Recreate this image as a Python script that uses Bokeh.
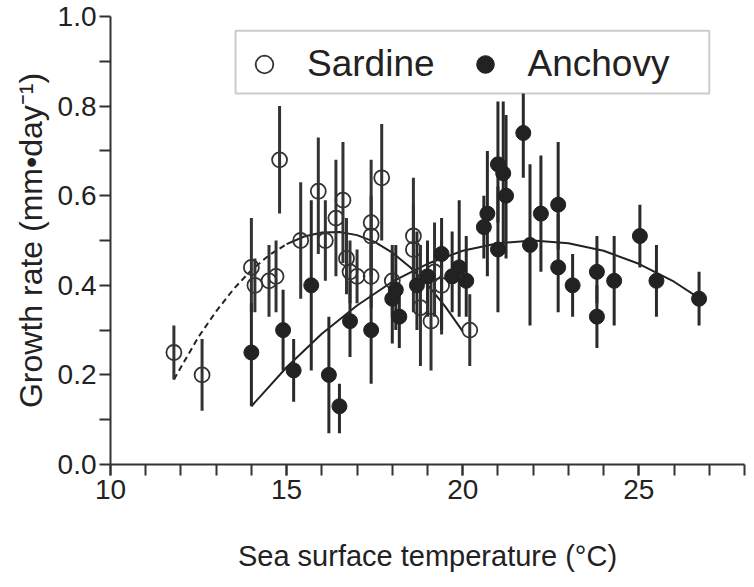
from bokeh.plotting import figure
from bokeh.models import (ColumnDataSource, Legend, LegendItem, BoxAnnotation,
                          FixedTicker, Range1d, NumeralTickFormatter)
from bokeh.embed import file_html
from bokeh.resources import INLINE

# ---------------- data ----------------
sardine_x = [11.8, 12.6, 14.0, 14.1, 14.5, 14.7, 14.8, 15.4, 15.9, 16.1, 16.4, 16.6,
             16.7, 16.8, 17.0, 17.4, 17.4, 17.4, 17.7, 18.0, 18.6, 18.6, 18.8, 19.1,
             19.2, 19.4, 20.2]
sardine_y = [0.25, 0.20, 0.44, 0.40, 0.41, 0.42, 0.68, 0.50, 0.61, 0.50, 0.55, 0.59,
             0.46, 0.43, 0.42, 0.54, 0.51, 0.42, 0.64, 0.41, 0.51, 0.48, 0.35, 0.32,
             0.43, 0.40, 0.30]
sardine_lo = [0.19, 0.12, 0.34, 0.34, 0.33, 0.34, 0.56, 0.37, 0.47, 0.41, 0.42, 0.45,
              0.38, 0.36, 0.36, 0.40, 0.42, 0.35, 0.50, 0.33, 0.40, 0.34, 0.22, 0.21,
              0.33, 0.29, 0.22]
sardine_hi = [0.31, 0.28, 0.55, 0.46, 0.49, 0.50, 0.80, 0.63, 0.73, 0.59, 0.68, 0.72,
              0.55, 0.50, 0.48, 0.68, 0.60, 0.49, 0.76, 0.49, 0.64, 0.58, 0.49, 0.42,
              0.54, 0.50, 0.38]

anchovy_x = [14.0, 14.9, 15.2, 15.7, 16.2, 16.5, 16.8, 17.4, 18.0, 18.1, 18.2, 18.7,
             19.0, 19.4, 19.7, 19.9, 20.1, 20.6, 20.7, 21.0, 21.15, 21.23, 21.0, 21.72,
             21.91, 22.22, 22.71, 22.71, 23.12, 23.81, 23.81, 24.3, 25.03, 25.5, 26.71]
anchovy_y = [0.25, 0.30, 0.21, 0.40, 0.20, 0.13, 0.32, 0.30, 0.37, 0.39, 0.33, 0.40,
             0.42, 0.47, 0.42, 0.44, 0.41, 0.53, 0.56, 0.67, 0.65, 0.60, 0.48, 0.74,
             0.49, 0.56, 0.58, 0.44, 0.40, 0.43, 0.33, 0.41, 0.51, 0.41, 0.37]
anchovy_lo = [0.13, 0.21, 0.14, 0.21, 0.07, 0.07, 0.24, 0.18, 0.27, 0.30, 0.26, 0.30,
              0.33, 0.30, 0.34, 0.33, 0.33, 0.46, 0.42, 0.54, 0.47, 0.46, 0.34, 0.64,
              0.31, 0.43, 0.48, 0.34, 0.33, 0.36, 0.26, 0.31, 0.44, 0.33, 0.31]
anchovy_hi = [0.36, 0.39, 0.28, 0.59, 0.33, 0.18, 0.41, 0.38, 0.47, 0.49, 0.40, 0.52,
              0.50, 0.55, 0.52, 0.59, 0.51, 0.60, 0.70, 0.81, 0.81, 0.78, 0.62, 0.84,
              0.67, 0.69, 0.72, 0.56, 0.47, 0.51, 0.40, 0.51, 0.58, 0.49, 0.43]

# fitted curves
anchovy_fit_x = [14, 15, 16, 17, 18, 19, 20, 21, 22, 23, 24, 25, 26, 26.8]
anchovy_fit_y = [0.13, 0.217, 0.292, 0.355, 0.408, 0.448, 0.477, 0.494, 0.50, 0.494,
                 0.477, 0.448, 0.408, 0.367]
sardine_dash_x = [11.8, 12.5, 13.0, 13.5, 14.0, 14.5, 15.0]
sardine_dash_y = [0.19, 0.285, 0.342, 0.392, 0.434, 0.467, 0.492]
sardine_fit_x = [15.0, 15.5, 16.0, 16.5, 17.0, 17.5, 18.0, 18.5, 19.0, 19.5, 20.0]
sardine_fit_y = [0.492, 0.509, 0.518, 0.519, 0.512, 0.497, 0.473, 0.441, 0.401, 0.353,
                 0.297]

x_ticks = [10, 15, 20, 25]
x_minor = list(range(10, 29))
y_ticks = [0.0, 0.2, 0.4, 0.6, 0.8, 1.0]
y_minor = [0.1, 0.3, 0.5, 0.7, 0.9]

FONT = "Liberation Sans"
INK = "#222222"

p = figure(width=746, height=579, output_backend="svg", toolbar_location=None,
           x_range=Range1d(10, 28), y_range=Range1d(0, 1.0),
           min_border_left=110, min_border_right=2, min_border_top=16,
           min_border_bottom=115)
p.background_fill_color = "white"
p.border_fill_color = "white"
p.outline_line_color = None
p.xgrid.visible = False
p.ygrid.visible = False

sard = ColumnDataSource(dict(x=sardine_x, y=sardine_y, lo=sardine_lo, hi=sardine_hi))
anch = ColumnDataSource(dict(x=anchovy_x, y=anchovy_y, lo=anchovy_lo, hi=anchovy_hi))

# fitted curves
p.line(sardine_dash_x, sardine_dash_y, line_color=INK, line_width=2, line_dash="6 4")
p.line(sardine_fit_x, sardine_fit_y, line_color=INK, line_width=2)
p.line(anchovy_fit_x, anchovy_fit_y, line_color=INK, line_width=2)

# error bars
p.segment(x0="x", y0="lo", x1="x", y1="hi", source=sard, line_color="#333333", line_width=3)
p.segment(x0="x", y0="lo", x1="x", y1="hi", source=anch, line_color="#2a2a2a", line_width=3)

# points
r_s = p.scatter("x", "y", source=sard, size=15, marker="circle", fill_color=None,
                line_color="#333333", line_width=1.8)
r_a = p.scatter("x", "y", source=anch, size=15, marker="circle", fill_color="#222222",
                line_color="#222222", line_width=1)

# axes
for ax in (p.xaxis[0], p.yaxis[0]):
    ax.axis_line_width = 2
    ax.axis_line_color = "#333333"
    ax.major_tick_line_width = 2
    ax.minor_tick_line_width = 2
    ax.major_tick_line_color = "#333333"
    ax.minor_tick_line_color = "#333333"
    ax.major_tick_in = 0
    ax.major_tick_out = 11
    ax.minor_tick_in = 0
    ax.minor_tick_out = 11
    ax.major_label_text_font = FONT
    ax.major_label_text_font_size = "28px"
    ax.major_label_text_color = INK
    ax.axis_label_text_font = FONT
    ax.axis_label_text_font_style = "normal"
    ax.axis_label_text_color = INK

p.xaxis.ticker = FixedTicker(ticks=x_ticks, minor_ticks=x_minor)
p.yaxis.ticker = FixedTicker(ticks=y_ticks, minor_ticks=y_minor)
p.yaxis.formatter = NumeralTickFormatter(format="0.0")
p.xaxis.major_label_standoff = 4
p.yaxis.major_label_standoff = 3
p.xaxis.axis_label = "Sea surface temperature (°C)"
p.yaxis.axis_label = "Growth rate (mm\u2022day\u207b\u00b9)"
p.xaxis.axis_label_text_font_size = "29px"
p.yaxis.axis_label_text_font_size = "32px"
p.xaxis.axis_label_standoff = 38
p.yaxis.axis_label_standoff = 6

# legend box
box = BoxAnnotation(left=13.55, right=27.0, top=0.968, bottom=0.828,
                    fill_color="white", fill_alpha=1.0, line_color="#555555",
                    line_width=2, level="annotation")
p.add_layout(box)

legend = Legend(items=[LegendItem(label="Sardine", renderers=[r_s]),
                       LegendItem(label="Anchovy", renderers=[r_a])],
                orientation="horizontal", location=(132, 378),
                background_fill_alpha=0, border_line_alpha=0,
                label_text_font=FONT, label_text_font_size="37px",
                label_text_color=INK, glyph_width=44, glyph_height=44,
                label_standoff=21, spacing=28, padding=0, margin=0)
p.add_layout(legend)

open("out.html", "w").write(file_html(p, INLINE))
